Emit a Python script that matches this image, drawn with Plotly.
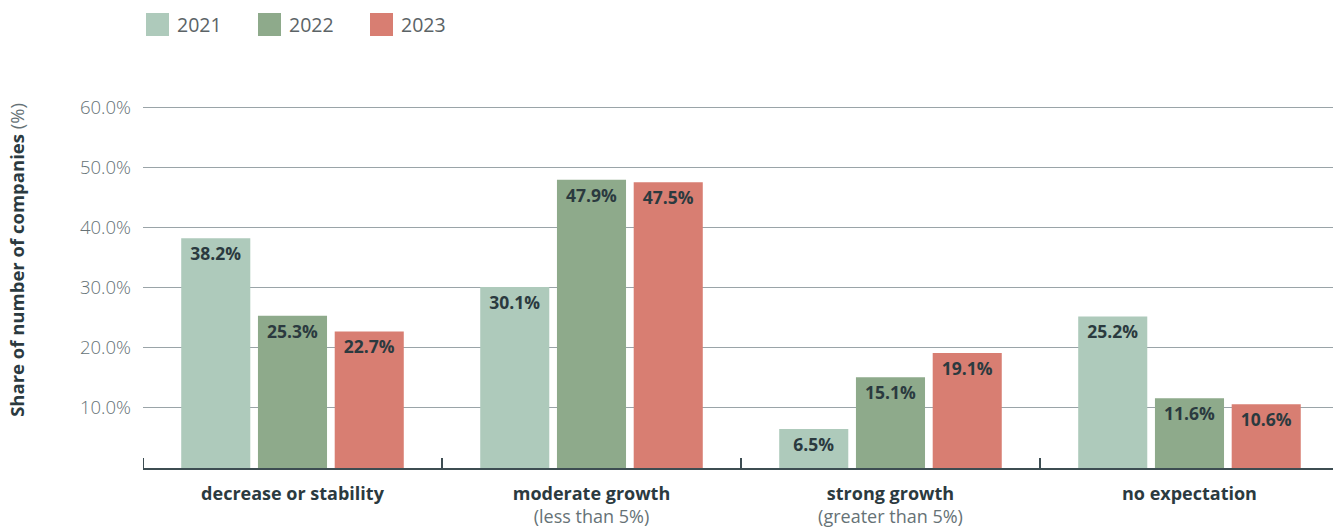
import plotly.graph_objects as go

# Survey results: expected development, share of companies per answer
categories = ["decrease or stability", "moderate growth", "strong growth", "no expectation"]
subtitles = ["", "(less than 5%)", "(greater than 5%)", ""]
years = ["2021", "2022", "2023"]
share_2021 = [38.2, 30.1, 6.5, 25.2]
share_2022 = [25.3, 47.9, 15.1, 11.6]
share_2023 = [22.7, 47.5, 19.1, 10.6]
y_ticks = [10, 20, 30, 40, 50, 60]
y_tick_labels = ["10.0%", "20.0%", "30.0%", "40.0%", "50.0%", "60.0%"]

colors = ["#aecabb", "#8eaa8b", "#d87e72"]
FONT = "Open Sans"
DARK = "#2b3a3f"
GREY = "#667276"

tick_text = []
for cat, sub in zip(categories, subtitles):
    label = f"<b>{cat}</b>"
    if sub:
        label += f"<br><span style='color:{GREY}'>{sub}</span>"
    tick_text.append(label)

fig = go.Figure()
for year, vals, col in zip(years, [share_2021, share_2022, share_2023], colors):
    fig.add_trace(go.Bar(
        x=categories, y=vals, name=year, marker_color=col, marker_line_width=0,
        text=[f"<b>{v:.1f}%</b>" for v in vals], textposition="inside",
        insidetextanchor="end", textangle=0,
        textfont=dict(family=FONT, size=17.5, color=DARK),
        showlegend=False,
    ))

# legend: colour squares + year labels above the plot
for i, (year, col) in enumerate(zip(years, colors)):
    off = i * 112
    fig.add_shape(type="rect", xref="paper", yref="paper",
                  xsizemode="pixel", ysizemode="pixel", xanchor=0, yanchor=1,
                  x0=3 + off, x1=26 + off, y0=59, y1=82,
                  fillcolor=col, line_width=0, layer="above")
    fig.add_annotation(text=year, xref="paper", yref="paper", x=0, y=1,
                       xanchor="left", yanchor="middle", xshift=32 + off, yshift=71,
                       showarrow=False, font=dict(family=FONT, size=19.5, color="#5b6366"))

# category boundary ticks crossing the baseline
for k in range(len(categories)):
    fig.add_shape(type="line", xref="x", yref="y", ysizemode="pixel", yanchor=0,
                  x0=k - 0.5, x1=k - 0.5, y0=-15, y1=10,
                  line=dict(color="#3d4d52", width=2), layer="above")

fig.add_annotation(
    text=f"<b>Share of number of companies</b> <span style='color:{GREY}'>(%)</span>",
    xref="paper", yref="paper", x=0, y=0.558, xshift=-126,
    xanchor="center", yanchor="middle", textangle=-90, showarrow=False,
    font=dict(family=FONT, size=18.5, color=DARK),
)

fig.update_layout(
    width=1333, height=530,
    margin=dict(l=143, r=0, t=95, b=62),
    plot_bgcolor="white", paper_bgcolor="white",
    barmode="group", bargap=0.23, bargroupgap=0.1,
    uniformtext=dict(minsize=17, mode="show"),
    font=dict(family=FONT),
)
fig.update_xaxes(
    range=[-0.5, 3.48], tickvals=categories, ticktext=tick_text,
    ticks="", showline=True, linecolor="#3d4d52", linewidth=2,
    tickfont=dict(family=FONT, size=18, color=DARK), ticklabelstandoff=8,
)
fig.update_yaxes(
    range=[0, 62], tickvals=y_ticks, ticktext=y_tick_labels,
    showgrid=True, gridcolor="#9aa4a8", gridwidth=1, zeroline=False,
    ticks="", ticklabelstandoff=11,
    tickfont=dict(family=FONT, size=18.5, color=GREY, weight=300),
)

fig.write_html("out.html")
